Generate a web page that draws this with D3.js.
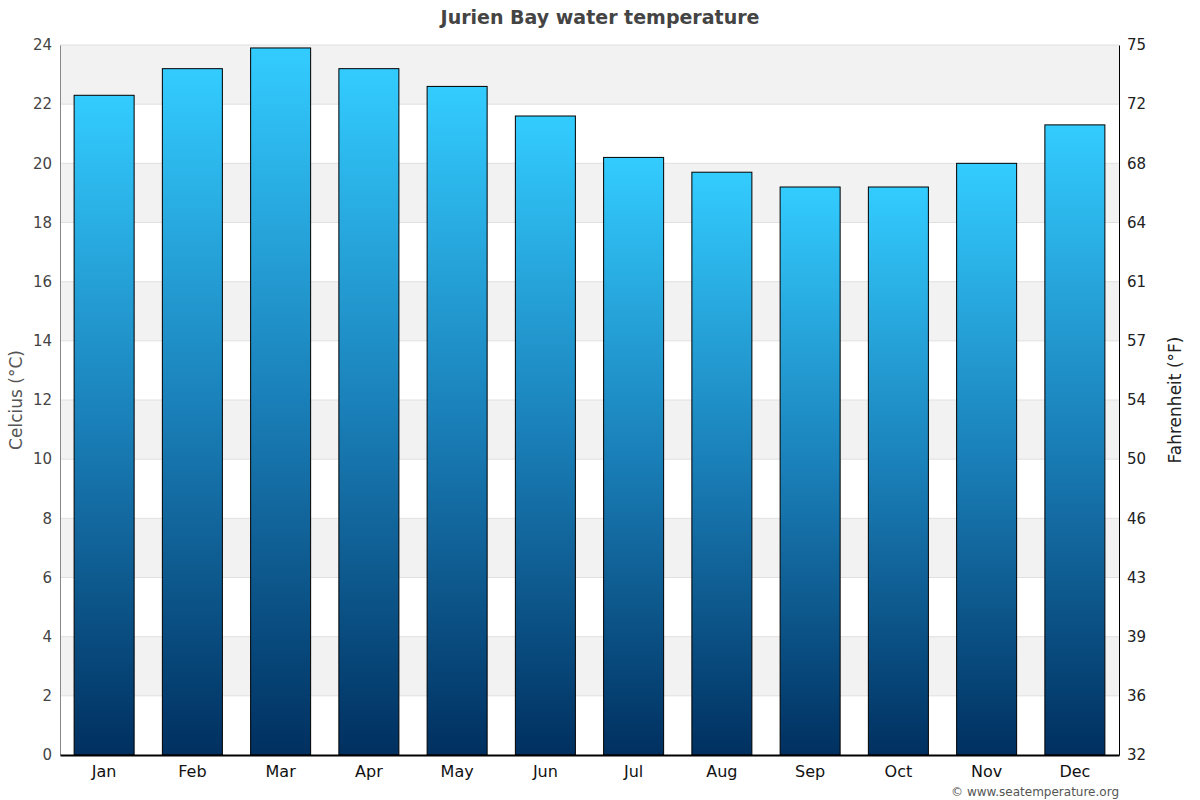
<!DOCTYPE html>
<html>
<head>
<meta charset="utf-8">
<script src="https://cdn.jsdelivr.net/npm/d3@7"></script>
<style>
  body { margin: 0; background: #fff; }
  svg text { font-family: 'DejaVu Sans', Verdana, sans-serif; }
</style>
</head>
<body>
<div id="chart"></div>
<script>
// Data
const months = ["Jan", "Feb", "Mar", "Apr", "May", "Jun", "Jul", "Aug", "Sep", "Oct", "Nov", "Dec"];
const waterTemp = [22.3, 23.2, 23.9, 23.2, 22.6, 21.6, 20.2, 19.7, 19.2, 19.2, 20.0, 21.3];
const celsiusTicks = [0, 2, 4, 6, 8, 10, 12, 14, 16, 18, 20, 22, 24];

const FONT = "'DejaVu Sans', Verdana, sans-serif";

const margin = { top: 45, right: 81, bottom: 45, left: 60 };
const width = 1200 - margin.left - margin.right;
const height = 800 - margin.top - margin.bottom;

const svg = d3.select("#chart")
    .append("svg")
    .attr("width", 1200)
    .attr("height", 800)
    .attr("font-family", FONT);

// per-bar gradient, light at top, dark navy at bottom
const grad = svg.append("defs").append("linearGradient")
    .attr("id", "barGrad")
    .attr("x1", 0).attr("y1", 0).attr("x2", 0).attr("y2", 1);
grad.append("stop").attr("offset", "0%").attr("stop-color", "#33ccff");
grad.append("stop").attr("offset", "50%").attr("stop-color", "#1a7fb8");
grad.append("stop").attr("offset", "100%").attr("stop-color", "#003060");

const g = svg.append("g").attr("transform", `translate(${margin.left},${margin.top})`);

const x = d3.scaleBand().domain(months).range([0, width]).paddingInner(0.32).paddingOuter(0.16);
const y = d3.scaleLinear().domain([0, 24]).range([height, 0]);

// alternating background bands
const bands = d3.range(0, 24, 2).filter(v => (v / 2) % 2 === 1);
g.selectAll(".band")
    .data(bands)
    .join("rect")
    .attr("x", 0)
    .attr("width", width)
    .attr("y", d => y(d + 2))
    .attr("height", d => y(d) - y(d + 2))
    .attr("fill", "#f2f2f2");

// gridlines
g.selectAll(".grid")
    .data(celsiusTicks.filter(d => d > 0))
    .join("line")
    .attr("x1", 0).attr("x2", width)
    .attr("y1", d => y(d)).attr("y2", d => y(d))
    .attr("stroke", "#e0e0e0")
    .attr("stroke-width", 1);

// bars
g.selectAll(".bar")
    .data(waterTemp)
    .join("rect")
    .attr("x", (d, i) => x(months[i]))
    .attr("y", d => y(d))
    .attr("width", x.bandwidth())
    .attr("height", d => height - y(d))
    .attr("fill", "url(#barGrad)")
    .attr("stroke", "#000")
    .attr("stroke-width", 1);

// left axis
const yAxis = g.append("g")
    .call(d3.axisLeft(y).tickValues(celsiusTicks).tickSize(0).tickPadding(8))
    .attr("font-family", FONT);
yAxis.select(".domain").attr("stroke", "#888");
yAxis.selectAll("text").attr("font-size", 15).attr("fill", "#444");

// right axis (Fahrenheit)
const yAxisR = g.append("g")
    .attr("transform", `translate(${width},0)`)
    .call(d3.axisRight(y).tickValues(celsiusTicks).tickSize(0).tickPadding(8)
        .tickFormat(d => Math.round(d * 9 / 5 + 32)))
    .attr("font-family", FONT);
yAxisR.select(".domain").attr("stroke", "#000");
yAxisR.selectAll("text").attr("font-size", 15).attr("fill", "#222");

// bottom axis
const xAxis = g.append("g")
    .attr("transform", `translate(0,${height})`)
    .call(d3.axisBottom(x).tickSize(0).tickPadding(11))
    .attr("font-family", FONT);
xAxis.select(".domain").attr("stroke", "#000").attr("stroke-width", 2);
xAxis.selectAll("text").attr("font-size", 16).attr("fill", "#111");

// title
svg.append("text")
    .attr("x", 600).attr("y", 24)
    .attr("text-anchor", "middle")
    .attr("font-size", 19).attr("font-weight", "bold")
    .attr("fill", "#444")
    .text("Jurien Bay water temperature");

// axis titles
svg.append("text")
    .attr("transform", `translate(22,${margin.top + height / 2}) rotate(-90)`)
    .attr("text-anchor", "middle")
    .attr("font-size", 17).attr("fill", "#555")
    .text("Celcius (°C)");

svg.append("text")
    .attr("transform", `translate(1181,${margin.top + height / 2}) rotate(-90)`)
    .attr("text-anchor", "middle")
    .attr("font-size", 17).attr("fill", "#222")
    .text("Fahrenheit (°F)");

// credit
svg.append("text")
    .attr("x", 1119).attr("y", 796)
    .attr("text-anchor", "end")
    .attr("font-size", 12).attr("fill", "#555")
    .text("© www.seatemperature.org");
</script>
</body>
</html>
